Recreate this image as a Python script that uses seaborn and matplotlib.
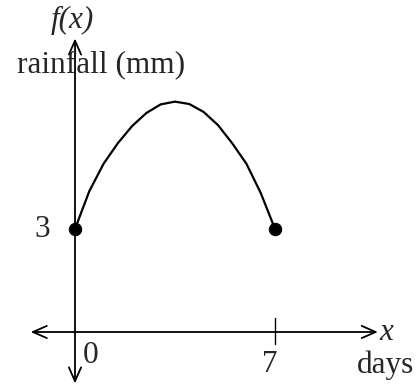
import matplotlib
matplotlib.use("Agg")
import matplotlib.pyplot as plt
import seaborn as sns
import pandas as pd

# rainfall curve (days 0..7)
days = [0, 0.5, 1, 1.5, 2, 2.5, 3, 3.5, 4, 4.5, 5, 5.5, 6, 6.5, 7]
rainfall = [3.0, 4.1, 4.9, 5.5, 6.0, 6.38, 6.63, 6.71, 6.64, 6.41, 6.03, 5.5, 4.9, 4.05, 3.0]

# end points marked with dots
end_days = [0, 7]
end_rain = [3, 3]

sns.set_style("white")
plt.rcParams['font.family'] = ['Liberation Serif', 'DejaVu Serif']

df = pd.DataFrame({'day': days, 'rain': rainfall})
ends = pd.DataFrame({'day': end_days, 'rain': end_rain})

fig = plt.figure(figsize=(4.16, 3.85), dpi=100)
ax = fig.add_axes([0, 0, 1, 1])

sns.lineplot(data=df, x='day', y='rain', color='black', lw=1.6, ax=ax)
sns.scatterplot(data=ends, x='day', y='rain', color='black', s=80,
                edgecolor='black', zorder=5, ax=ax)

ax.set_xlim(-2.625, 11.935)
ax.set_ylim(-1.544, 9.67)
ax.axis('off')

arrow = dict(arrowstyle='<->, head_length=0.5, head_width=0.22',
             color='black', lw=1.3, mutation_scale=20, shrinkA=0, shrinkB=0)
# x axis
ax.annotate('', xy=(10.6, 0), xytext=(-1.55, 0), arrowprops=arrow)
# y axis
ax.annotate('', xy=(0, 8.55), xytext=(0, -1.5), arrowprops=arrow)
# tick at 7
ax.plot([7, 7], [-0.35, 0.4], color='black', lw=1)

fs = 22.5
ax.text(0.173, 0.948, 'f(x)', transform=ax.transAxes, fontsize=fs,
        style='italic', ha='center', va='center')
ax.text(0.041, 0.813, 'rainfall (mm)', transform=ax.transAxes, fontsize=fs,
        ha='left', va='baseline')
ax.text(0.12, 0.384, '3', transform=ax.transAxes, fontsize=fs,
        ha='right', va='baseline')
ax.text(0.2, 0.057, '0', transform=ax.transAxes, fontsize=fs,
        ha='left', va='baseline')
ax.text(0.649, 0.034, '7', transform=ax.transAxes, fontsize=fs,
        ha='center', va='baseline')
ax.text(0.913, 0.117, 'x', transform=ax.transAxes, fontsize=fs,
        style='italic', ha='left', va='baseline')
ax.text(0.995, 0.03, 'days', transform=ax.transAxes, fontsize=fs,
        ha='right', va='baseline')

fig.savefig('out.png', dpi=100)
